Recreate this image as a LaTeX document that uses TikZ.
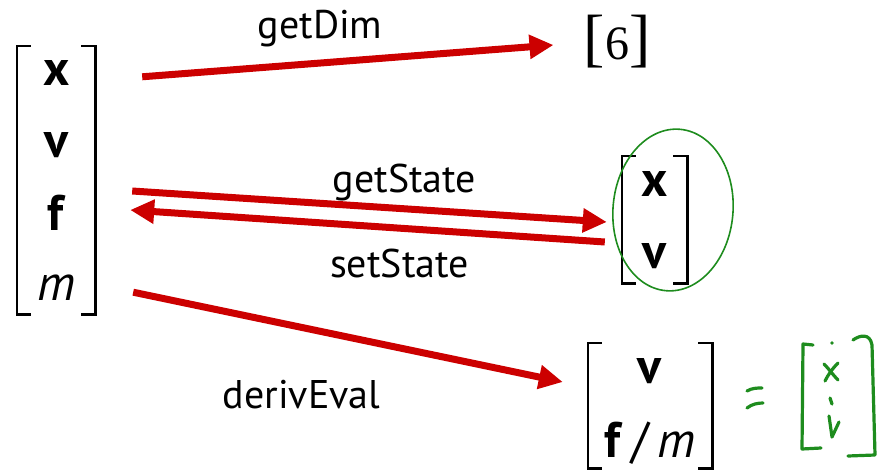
\documentclass[tikz,border=0pt]{standalone}
\usepackage{fontspec}
\setmainfont{PT Sans}
\newfontfamily\timesfont{Liberation Serif}
\usetikzlibrary{arrows.meta}
\definecolor{arrowred}{HTML}{CC0000}
\definecolor{penGreen}{HTML}{1E8C1E}
\tikzset{
  arr/.style={draw=arrowred, line width=7pt, -{Triangle[length=24pt,width=23pt]}},
  brk/.style={draw, line width=2.6pt},
  mat/.style={inner sep=0pt},
  entry/.style={anchor=base, inner sep=0pt, font=\fontsize{50}{50}\selectfont},
  lbl/.style={anchor=base, inner sep=0pt, font=\fontsize{40}{40}\selectfont},
  pen/.style={draw=penGreen, line width=3.2pt, line cap=round, line join=round},
}
\begin{document}
\begin{tikzpicture}[x=1pt,y=-1pt]
  \useasboundingbox (0,0) rectangle (880,471);
  % full state
  \node[mat, minimum width=78pt, minimum height=268pt] (L) at (56,180) {};
  \node[entry] (Lx) at (57,85) {\textbf{x}};
  \node[entry] (Lv) at (57,157) {\textbf{v}};
  \node[entry] (Lf) at (57,230) {\textbf{f}};
  \node[entry] (Lm) at (57,300) {\textit{m}};
  % dimension
  \node[inner sep=0pt, font=\timesfont\fontsize{48}{48}\selectfont] (dim) at (617,42)
        {{\fontsize{64}{64}\selectfont[}6{\fontsize{64}{64}\selectfont]}};
  % phase space state
  \node[mat, minimum width=65pt, minimum height=127pt] (M) at (654.5,219.5) {};
  \node[entry] (Mx) at (655,196) {\textbf{x}};
  \node[entry] (Mv) at (655,268) {\textbf{v}};
  % derivative
  \node[mat, minimum width=124pt, minimum height=125pt] (B) at (650,405.5) {};
  \node[entry] (Bv) at (650,383) {\textbf{v}};
  \node[entry] (Bfm) at (650,457) {\textbf{f}\,/\,\textit{m}};
  \foreach \m in {L,M,B} {
    \draw[brk] ([xshift=14pt]\m.north west) -| (\m.south west) -- ++(14pt,0pt);
    \draw[brk] ([xshift=-14pt]\m.north east) -| (\m.south east) -- ++(-14pt,0pt);
  }
  % calls
  \path ([xshift=47pt,yshift=-31pt]L.north east) edge[arr] ([xshift=-30pt,yshift=-3pt]dim.west);
  \path ([xshift=37pt,yshift=-11pt]L.east) edge[arr] ([xshift=-15pt,yshift=-2.5pt]M.west);
  \path ([xshift=-17pt,yshift=-22.5pt]M.west) edge[arr] ([xshift=35pt,yshift=-30pt]L.east);
  \path ([xshift=38pt,yshift=22pt]L.south east) edge[arr] ([xshift=-25pt,yshift=23.5pt]B.west);
  \node[lbl] (dimLbl) at (320,38) {getDim};
  \node[lbl] (getLbl) at (404.5,192) {getState};
  \node[lbl] (setLbl) at (399.5,277) {setState};
  \node[lbl] (evalLbl) at (301.5,408) {derivEval};
  % handwritten notes
  \draw[pen, line width=1.6pt, rotate around={-5:(673,210)}] (673,210) ellipse [x radius=60, y radius=81];
  \draw[pen] (747,391) .. controls (752,388) and (757,388) .. (762,388);
  \draw[pen] (747,408) .. controls (752,404) and (758,403) .. (763,403);
  \draw[pen] (813,345) -- (803,344) -- (802,449) -- (821,448);
  \draw[pen] (853,340) .. controls (860,335) and (870,333) .. (872,345) -- (875,455) -- (848,456);
  \fill[penGreen] (832,343) circle (1.8);
  \draw[pen] (824,364) .. controls (829,369) and (833,375) .. (838,380);
  \draw[pen] (838,363) .. controls (832,369) and (828,375) .. (825,381);
  \draw[pen] (830,398) -- (832,404);
  \draw[pen] (829,416) -- (832,437) -- (839,422);
\end{tikzpicture}
\end{document}
